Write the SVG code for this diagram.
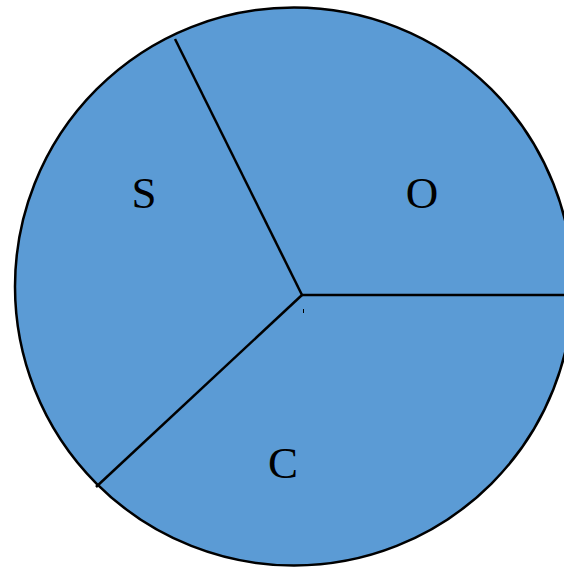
<svg xmlns="http://www.w3.org/2000/svg" width="564" height="568" viewBox="0 0 564 568">
<style>
.lbl{font-family:"Liberation Serif","Times New Roman",serif;font-size:45px;fill:#000;text-anchor:middle}
.ln{stroke:#000;stroke-width:2.5;fill:none}
</style>
<rect width="564" height="568" fill="#fff"/>
<g id="pie">
<circle cx="294" cy="286.5" r="279" fill="#5B9BD5" stroke="#000" stroke-width="2.5"/>
</g>
<g id="connectors">
<line class="ln" x1="302" y1="295" x2="566" y2="295"/>
<line class="ln" x1="302" y1="295" x2="175" y2="39"/>
<line class="ln" x1="302" y1="295" x2="96" y2="487"/>
<line x1="303.5" y1="309" x2="303.5" y2="313" stroke="#000" stroke-width="1"/>
</g>
<g id="S"><text class="lbl" x="144" y="208">S</text></g>
<g id="O"><text class="lbl" x="422" y="208">O</text></g>
<g id="C"><text class="lbl" x="283" y="478">C</text></g>
</svg>
